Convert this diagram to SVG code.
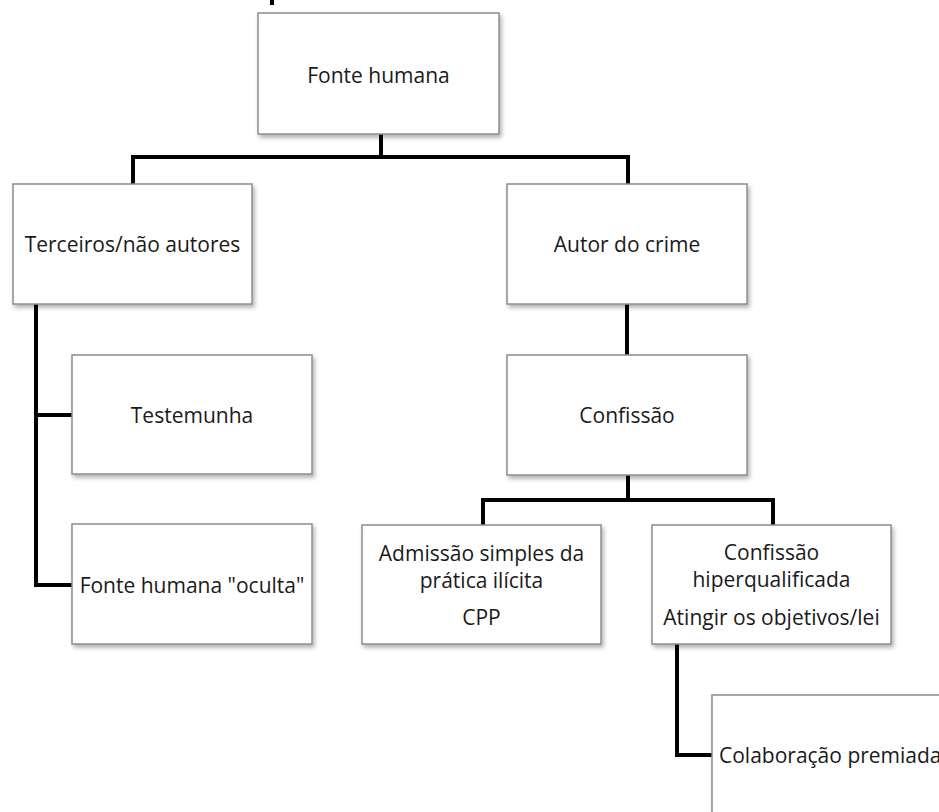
<svg xmlns="http://www.w3.org/2000/svg" width="939" height="812" viewBox="0 0 939 812">
<style>
.box{fill:#fff;stroke:#8c8c8c;stroke-width:1.5;filter:url(#sh)}
.lbl{font-family:"Open Sans","Noto Sans",sans-serif;font-size:21px;fill:#1a1a1a;text-anchor:middle;dominant-baseline:central}
.ln{fill:none;stroke:#000;stroke-width:4;stroke-linejoin:miter}
</style>
<defs>
<filter id="sh" x="-10%" y="-10%" width="125%" height="130%">
<feDropShadow dx="2" dy="3" stdDeviation="2" flood-color="#000" flood-opacity="0.3"/>
</filter>
</defs>
<rect width="939" height="812" fill="#fff"/>
<g id="connectors">
<line class="ln" x1="272" y1="0" x2="272" y2="5" stroke-width="3"/>
<polyline class="ln" points="133,184 133,157 628,157 628,184"/>
<line class="ln" x1="381" y1="134" x2="381" y2="157"/>
<polyline class="ln" points="36,304 36,585 72,585"/>
<line class="ln" x1="36" y1="415" x2="72" y2="415"/>
<line class="ln" x1="627" y1="304" x2="627" y2="355"/>
<line class="ln" x1="628" y1="475" x2="628" y2="500"/>
<polyline class="ln" points="483,525 483,500 773,500 773,525"/>
<polyline class="ln" points="677,644 677,755 712,755"/>
</g>
<g id="n-fonte"><rect class="box" x="258" y="13" width="241" height="121"/><text class="lbl" x="378.5" y="75">Fonte humana</text></g>
<g id="n-terceiros"><rect class="box" x="13" y="184" width="239" height="120"/><text class="lbl" x="132.5" y="244">Terceiros/não autores</text></g>
<g id="n-autor"><rect class="box" x="507" y="184" width="240" height="120"/><text class="lbl" x="627" y="244">Autor do crime</text></g>
<g id="n-testemunha"><rect class="box" x="72" y="355" width="240" height="119"/><text class="lbl" x="192" y="415">Testemunha</text></g>
<g id="n-oculta"><rect class="box" x="72" y="524" width="240" height="120"/><text class="lbl" x="192" y="585">Fonte humana "oculta"</text></g>
<g id="n-confissao"><rect class="box" x="507" y="355" width="240" height="120"/><text class="lbl" x="627" y="415">Confissão</text></g>
<g id="n-admissao"><rect class="box" x="362" y="525" width="239" height="119"/><text class="lbl" x="481.5" y="553">Admissão simples da</text><text class="lbl" x="481.5" y="580">prática ilícita</text><text class="lbl" x="481.5" y="617">CPP</text></g>
<g id="n-hiper"><rect class="box" x="652" y="525" width="239" height="119"/><text class="lbl" x="771.5" y="552">Confissão</text><text class="lbl" x="771.5" y="579">hiperqualificada</text><text class="lbl" x="771.5" y="617">Atingir os objetivos/lei</text></g>
<g id="n-colab"><rect class="box" x="712" y="695" width="240" height="120"/><text class="lbl" x="719" y="755" style="text-anchor:start">Colaboração premiada</text></g>
</svg>
